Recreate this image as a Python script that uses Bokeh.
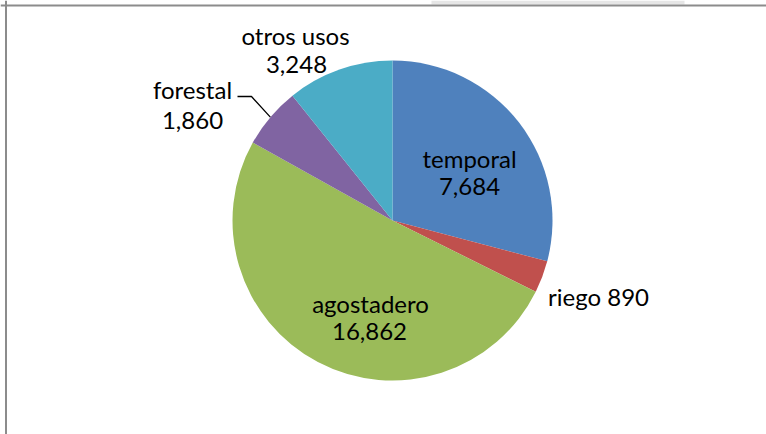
import math
from bokeh.plotting import figure
from bokeh.models import Range1d, Span, BoxAnnotation
from bokeh.core.properties import value
from bokeh.embed import file_html
from bokeh.resources import INLINE

# ---- data ----
categories = ["temporal", "riego", "agostadero", "forestal", "otros usos"]
values = [7684, 890, 16862, 1860, 3248]
# angular share (%) each slice occupies in the reference picture
slice_share = [29.1, 3.25, 50.75, 6.15, 10.75]
colors = ["#4F81BD", "#C0504D", "#9BBB59", "#8064A2", "#4BACC6"]

# ---- layout (page pixel coordinates) ----
OX, OY = 0, 0
W, H = 766, 434
CX, CY, R = 392, 220, 160
FONT = value("Lato")
FS = "24px"
TEXT_DY = -9

def ys(y):
    return -y

p = figure(width=W, height=H, output_backend="svg", toolbar_location=None,
           x_range=Range1d(OX, OX + W), y_range=Range1d(-(OY + H), -OY),
           min_border=0)
p.axis.visible = False
p.grid.visible = False
p.outline_line_color = None
p.background_fill_color = "white"
p.border_fill_color = "white"

total = sum(slice_share)
starts, ends = [], []
acc = 0.0
for s in slice_share:
    starts.append(math.pi / 2 - 2 * math.pi * acc / total)
    acc += s
    ends.append(math.pi / 2 - 2 * math.pi * acc / total)

p.wedge(x=CX, y=ys(CY), radius=R, start_angle=starts, end_angle=ends,
        direction="clock", fill_color=colors, line_color=None)

def fmt(v):
    return f"{v:,}"

# labels: (text, x, baseline y)
label_rows = [
    ("temporal", 469, 167), (fmt(values[0]), 469, 195),
    (f"riego {fmt(values[1])}", 598, 305),
    ("agostadero", 370, 312), (fmt(values[2]), 369, 340),
    ("forestal", 192, 98), (fmt(values[3]), 192, 129),
    ("otros usos", 295, 44), (fmt(values[4]), 296, 73),
]
p.text(x=[r[1] for r in label_rows], y=[ys(r[2] + TEXT_DY) for r in label_rows],
       text=[r[0] for r in label_rows], text_align="center",
       text_baseline="alphabetic", text_font=FONT, text_font_size=FS,
       text_color="#000000")

# leader line for forestal
mid = (starts[3] + ends[3]) / 2
ex, ey = CX + R * math.cos(mid), CY - R * math.sin(mid)
p.line(x=[237, 251, ex], y=[ys(96), ys(96), ys(ey)], line_color="#000000", line_width=1.3)

# frame lines (top and left) and faint strip above the frame
p.add_layout(BoxAnnotation(left=431, right=684, top=ys(0), bottom=ys(4),
                           fill_color="#e6e6e6", fill_alpha=1, line_color=None))
p.add_layout(Span(location=5.5, dimension="height", line_color="#8c8c8c", line_width=2))
p.add_layout(Span(location=ys(5), dimension="width", line_color="#8c8c8c", line_width=2))

open("out.html", "w").write(file_html(p, INLINE))
